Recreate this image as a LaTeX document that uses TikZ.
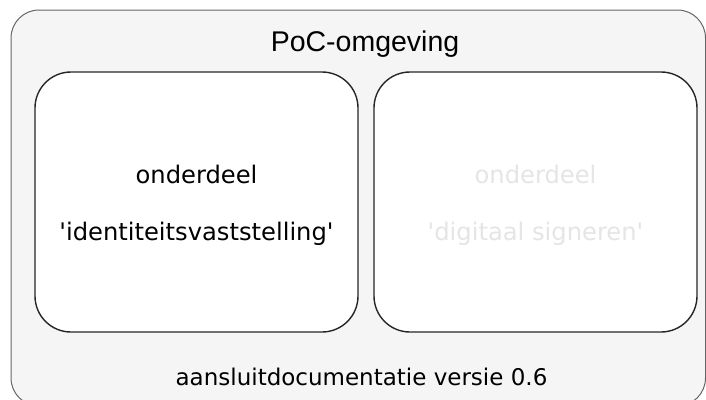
\documentclass[tikz,border=0pt]{standalone}
\usepackage{fontspec}
\setmainfont{DejaVu Sans}
\newfontfamily\titlefont{Liberation Sans}
\begin{document}
\begin{tikzpicture}[x=1pt,y=-1pt,
  outerbox/.style={draw=black!60,fill=black!4,line width=1pt,rounded corners=28pt},
  innerbox/.style={draw=black!85,fill=white,line width=1.4pt,rounded corners=36pt},
  label/.style={anchor=base,inner sep=0pt,font=\fontsize{24.2}{29}\selectfont},
  dimlabel/.style={label,text=black!10}]
\useasboundingbox (0,0) rectangle (706,399);
\begin{scope}
\clip (0,0) rectangle (706,399);
\draw[outerbox] (11,10) rectangle (705.5,406);
\end{scope}
\node[anchor=base,inner sep=0pt,font=\titlefont\fontsize{28.5}{34}\selectfont] (title) at (365,51) {PoC-omgeving};
\draw[innerbox] (35,72) rectangle (358,332);
\draw[innerbox] (374,72) rectangle (697,332);
\node[label] (l1) at (196.5,183) {onderdeel};
\node[label] (l2) at (196.5,240) {\textquotesingle identiteitsvaststelling\textquotesingle};
\node[dimlabel] (r1) at (535.5,183) {onderdeel};
\node[dimlabel] (r2) at (535.5,240) {\textquotesingle digitaal signeren\textquotesingle};
\node[label,font=\fontsize{23}{28}\selectfont] (foot) at (361.5,385) {aansluitdocumentatie versie 0.6};
\end{tikzpicture}
\end{document}
